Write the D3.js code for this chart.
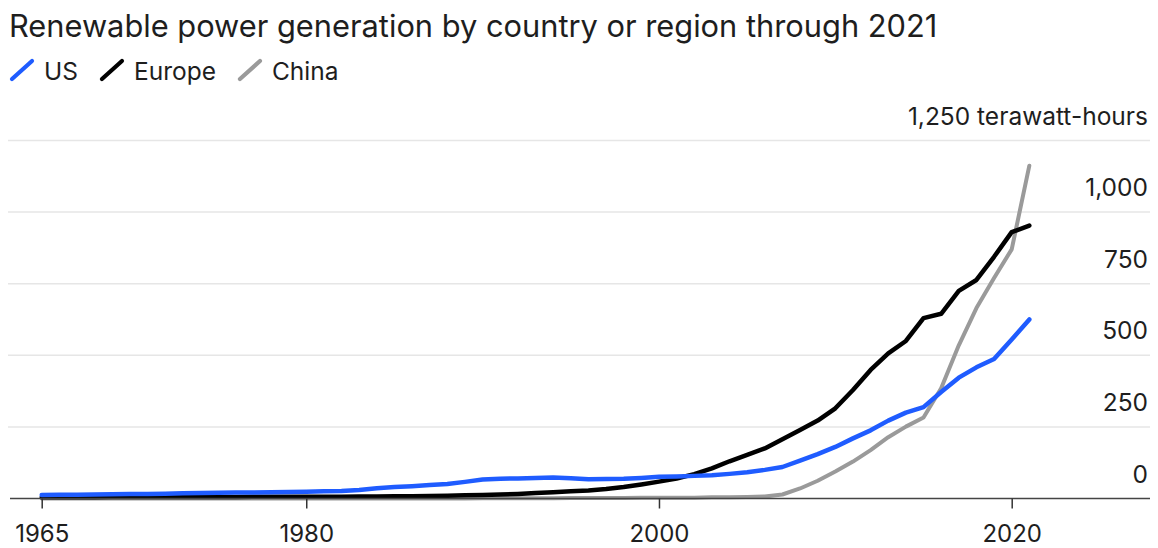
<!DOCTYPE html>
<html>
<head>
<meta charset="utf-8">
<script src="https://cdn.jsdelivr.net/npm/d3@7"></script>
<style>
  html, body { margin: 0; padding: 0; background: #fff; }
  svg { display: block; }
  text { font-family: Inter, "Liberation Sans", Arial, sans-serif; fill: #1e1e1e; }
</style>
</head>
<body>
<svg id="chart" width="1158" height="548"></svg>
<script>
const title = "Renewable power generation by country or region through 2021";
const unitLabel = "terawatt-hours";

const years = d3.range(1965, 2022);

const usValues = [
  12, 13, 13, 14, 15, 16, 16, 17, 18, 19,
  20, 21, 21, 22, 23, 24, 25, 26, 30, 36,
  40, 43, 47, 51, 58, 66, 69, 70, 72, 73,
  71, 67, 68, 69, 72, 76, 77, 79, 81, 86,
  92, 100, 110, 132, 155, 180, 210, 238, 272, 300,
  319, 372, 422, 458, 487, 555, 625
];

const europeValues = [
  4, 4, 4, 4, 5, 5, 5, 5, 5, 5,
  5, 5, 6, 6, 6, 6, 6, 6, 7, 7,
  8, 8, 9, 10, 11, 12, 14, 16, 19, 22,
  25, 28, 33, 40, 49, 59, 70, 85, 105, 130,
  152, 175, 207, 239, 272, 315, 379, 449, 507, 550,
  630, 645, 725, 763, 844, 930, 953
];

const chinaValues = [
  0, 0, 0, 0, 0, 0, 0, 0, 0, 0,
  0, 0, 0, 0, 0, 0, 0, 0, 0, 0,
  0, 0, 0, 0, 0, 1, 1, 1, 1, 1,
  2, 2, 2, 2, 3, 3, 3, 3, 4, 4,
  5, 7, 14, 35, 62, 94, 129, 169, 214, 251,
  283, 385, 535, 665, 770, 870, 1162
];

const seriesNames = ["US", "Europe", "China"];
const seriesColors = ["#1f5cff", "#000000", "#9a9a9a"];
const seriesWidths = [4.5, 4.5, 4];

const xTicks = [1965, 1980, 2000, 2020];
const yTicks = [0, 250, 500, 750, 1000, 1250];

const svg = d3.select("#chart");

const x = d3.scaleLinear().domain([1965, 2020]).range([41.7, 1011.7]);
const y = d3.scaleLinear().domain([0, 1250]).range([498.5, 140.5]);

// Title
svg.append("text")
  .attr("x", 9)
  .attr("y", 37)
  .style("font-size", "30.8px")
  .text(title);

// Legend
let lx = 11;
seriesNames.forEach((name, i) => {
  svg.append("line")
    .attr("x1", lx + 1).attr("y1", 79)
    .attr("x2", lx + 21).attr("y2", 61)
    .attr("stroke", seriesColors[i])
    .attr("stroke-width", 4.2)
    .attr("stroke-linecap", "round");
  const t = svg.append("text")
    .attr("x", lx + 33)
    .attr("y", 80)
    .style("font-size", "24.5px")
    .text(name);
  lx = lx + 33 + t.node().getComputedTextLength() + 23;
});

// Gridlines
svg.append("g")
  .selectAll("line")
  .data(yTicks.filter(d => d > 0))
  .join("line")
  .attr("x1", 8).attr("x2", 1150)
  .attr("y1", d => y(d)).attr("y2", d => y(d))
  .attr("stroke", "#e6e6e6")
  .attr("stroke-width", 1.5);

// Y labels
svg.append("g")
  .selectAll("text")
  .data(yTicks)
  .join("text")
  .attr("x", 1148)
  .attr("y", d => y(d) - 16)
  .attr("text-anchor", "end")
  .style("font-size", "24.5px")
  .text(d => d === 1250 ? d3.format(",")(d) + " " + unitLabel : d3.format(",")(d));

// Lines
const line = d3.line()
  .x(d => x(d.year))
  .y(d => y(d.value));

const seriesData = [usValues, europeValues, chinaValues].map((vals, i) => ({
  name: seriesNames[i],
  color: seriesColors[i],
  width: seriesWidths[i],
  points: years.map((yr, j) => ({ year: yr, value: vals[j] }))
}));

// draw order: China, Europe, US
[2, 1, 0].forEach(i => {
  const s = seriesData[i];
  svg.append("path")
    .datum(s.points)
    .attr("fill", "none")
    .attr("stroke", s.color)
    .attr("stroke-width", s.width)
    .attr("stroke-linejoin", "round")
    .attr("stroke-linecap", "round")
    .attr("d", line);
});

// X axis
const xAxis = d3.axisBottom(x)
  .tickValues(xTicks)
  .tickFormat(d3.format("d"))
  .tickSize(10)
  .tickSizeOuter(0);

const gx = svg.append("g")
  .attr("transform", `translate(0,${y(0)})`)
  .call(xAxis);
gx.select(".domain").remove();
gx.insert("line", ":first-child")
  .attr("x1", 10).attr("x2", 1150)
  .attr("y1", 0).attr("y2", 0)
  .attr("stroke", "#444")
  .attr("stroke-width", 1.5);
gx.selectAll(".tick line").attr("stroke", "#333").attr("stroke-width", 1.5);
gx.selectAll(".tick text")
  .attr("y", 43)
  .attr("dy", 0)
  .style("font-size", "24px")
  .style("font-family", "Inter, 'Liberation Sans', Arial, sans-serif")
  .attr("fill", "#1e1e1e");
</script>
</body>
</html>
